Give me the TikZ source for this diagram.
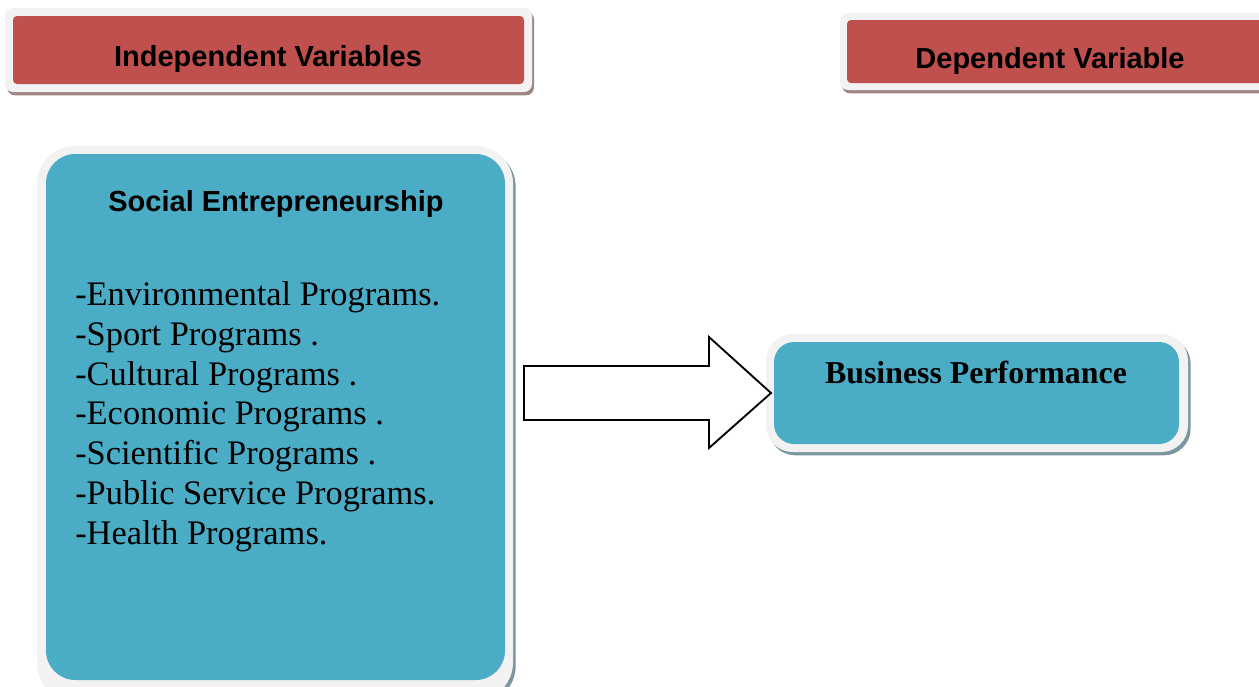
\documentclass[tikz,border=0pt]{standalone}
\usepackage{fontspec}
\setmainfont{Liberation Serif}
\setsansfont{Liberation Sans}
\usetikzlibrary{fit,shadows}
\definecolor{hdrred}{HTML}{C0504D}
\definecolor{boxblue}{HTML}{4BACC6}
\definecolor{rimgrey}{HTML}{F2F2F2}
\definecolor{redshade}{HTML}{A08585}
\definecolor{blueshade}{HTML}{7A96A0}
\tikzset{
  frame/.style={fill=rimgrey, inner sep=0pt, draw=none},
  redframe/.style={frame, rounded corners=6pt,
    drop shadow={shadow xshift=1.5pt, shadow yshift=-2.5pt, fill=redshade, opacity=1}},
  blueframe/.style={frame,
    drop shadow={shadow xshift=2pt, shadow yshift=-2.5pt, fill=blueshade, opacity=1}},
  redpanel/.style={fill=hdrred, inner sep=0pt, draw=none, rounded corners=3pt},
  bluepanel/.style={fill=boxblue, inner sep=0pt, draw=none},
  heading/.style={font=\sffamily\bfseries\fontsize{21.75}{26}\selectfont, inner sep=0pt, anchor=base},
  bigarrow/.style={draw=black, fill=white, line width=1.4pt, line join=miter},
}
\begin{document}
\begin{tikzpicture}[x=0.75pt, y=-0.75pt]
\useasboundingbox (0,0) rectangle (1259,686);
\clip (0,0) rectangle (1259,686);

% header boxes
\node[redframe, fit={(5,8) (532,92)}] (indfr) {};
\node[redpanel, fit={(13,16) (524,84)}] (ind) {};
\node[heading] (indtxt) at (268,66) {Independent Variables};

\node[redframe, fit={(840,13) (1270,90)}] (depfr) {};
\node[redpanel, fit={(847,20) (1266,83)}] (dep) {};
\node[heading] (deptxt) at (1050,68) {Dependent Variable};

% independent variable panel
\node[blueframe, rounded corners=28pt, fit={(37,146) (513,700)}] (sefr) {};
\node[bluepanel, rounded corners=22pt, fit={(46,154) (505,680)}] (se) {};
\node[heading] (setitle) at (276,211) {Social Entrepreneurship};
% the base anchor of a multi-line node sits on its last line
\node[anchor=base west, inner sep=0pt, align=left,
      font=\rmfamily\fontsize{25.8}{29.8}\selectfont] (selist) at (75,544)
  {-Environmental Programs.\\
   -Sport Programs .\\
   -Cultural Programs .\\
   -Economic Programs .\\
   -Scientific Programs .\\
   -Public Service Programs.\\
   -Health Programs.};

% dependent variable panel
\node[blueframe, rounded corners=20pt, fit={(766,334) (1188,452)}] (bpfr) {};
\node[bluepanel, rounded corners=15pt, fit={(774,342) (1179,444)}] (bp) {};
\node[anchor=base, inner sep=0pt, font=\rmfamily\bfseries\fontsize{23.9}{28}\selectfont]
  (bptxt) at (976,383) {Business Performance};

% block arrow from the independent to the dependent panel
\coordinate (tail) at (524,393);
\coordinate (tip) at (771,393);
\draw[bigarrow] (524,366) -- (709,366) -- (709,337) -- (tip)
  -- (709,448) -- (709,420) -- (524,420) -- cycle;
\end{tikzpicture}
\end{document}
